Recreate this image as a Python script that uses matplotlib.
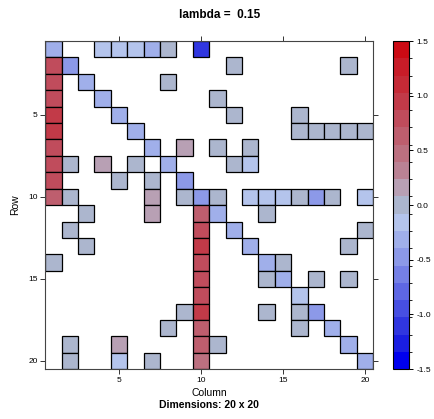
import numpy as np
import matplotlib
matplotlib.use("Agg")
import matplotlib.pyplot as plt
from matplotlib.colors import ListedColormap, BoundaryNorm
from matplotlib.cm import ScalarMappable

plt.rcParams['font.family'] = ['Liberation Sans', 'DejaVu Sans']
plt.rcParams['axes.unicode_minus'] = False

# nonzero entries of the 20 x 20 matrix (row, column, value)
cell_rows = [1, 1, 1, 1, 1, 1, 1,
             2, 2, 2, 2,
             3, 3, 3,
             4, 4, 4,
             5, 5, 5, 5,
             6, 6, 6, 6, 6, 6, 6,
             7, 7, 7, 7, 7,
             8, 8, 8, 8, 8, 8, 8,
             9, 9, 9, 9,
             10, 10, 10, 10, 10, 10, 10, 10, 10, 10, 10, 10, 10,
             11, 11, 11, 11, 11,
             12, 12, 12, 12,
             13, 13, 13, 13,
             14, 14, 14, 14,
             15, 15, 15, 15, 15,
             16, 16,
             17, 17, 17, 17, 17,
             18, 18, 18, 18,
             19, 19, 19, 19, 19,
             20, 20, 20, 20, 20]
cell_cols = [1, 4, 5, 6, 7, 8, 10,
             1, 2, 12, 19,
             1, 3, 8,
             1, 4, 11,
             1, 5, 12, 16,
             1, 6, 16, 17, 18, 19, 20,
             1, 7, 9, 11, 13,
             1, 2, 4, 6, 8, 12, 13,
             1, 5, 7, 9,
             1, 2, 7, 9, 10, 11, 13, 14, 15, 16, 17, 18, 20,
             3, 7, 10, 11, 14,
             2, 10, 12, 20,
             3, 10, 13, 19,
             1, 10, 14, 15,
             10, 14, 15, 17, 19,
             10, 16,
             9, 10, 14, 16, 17,
             8, 10, 16, 18,
             2, 5, 10, 11, 19,
             2, 5, 7, 10, 20]
cell_vals = [-0.3, -0.15, -0.15, -0.15, -0.3, 0.02, -1.1,
             0.8, -0.5, 0.02, 0.02,
             0.8, -0.3, 0.02,
             0.8, -0.3, 0.02,
             0.95, -0.3, 0.02, 0.02,
             0.95, -0.3, 0.02, 0.02, 0.02, 0.02, 0.02,
             0.8, -0.3, 0.15, 0.02, 0.02,
             0.8, 0.02, 0.15, 0.02, -0.3, 0.02, -0.15,
             0.8, 0.02, 0.02, -0.5,
             0.65, 0.02, 0.15, 0.02, -0.5, 0.02, -0.15, -0.15, -0.15, 0.02, -0.5, 0.02, -0.15,
             0.02, 0.15, 0.65, -0.3, 0.02,
             0.02, 0.8, -0.3, 0.02,
             0.02, 0.95, -0.3, 0.02,
             0.02, 0.8, -0.3, 0.02,
             0.8, 0.02, -0.3, 0.02, 0.02,
             0.8, -0.15,
             0.02, 0.95, 0.02, 0.02, -0.5,
             0.02, 0.65, 0.02, -0.3,
             0.02, 0.15, 0.65, 0.02, -0.3,
             0.02, -0.15, 0.02, 0.5, -0.3]

# 19 colour regions from -1.5 to 1.5
region_colors = ['#0000EE', '#1A1EE2', '#3036E0', '#474FE2', '#5E67E4',
                 '#7580E6', '#8C99E8', '#A0AFEA', '#B4C4EC', '#ACB6CE',
                 '#B8A0B4', '#BA8294', '#BC7080', '#BE5E6E', '#C04C5C',
                 '#C23A48', '#C52A36', '#C81C28', '#CC0A14']
key_ticks = [-1.5, -1.0, -0.5, 0.0, 0.5, 1.0, 1.5]
axis_ticks = [5, 10, 15, 20]

cmap = ListedColormap(region_colors)
norm = BoundaryNorm(np.linspace(-1.5, 1.5, len(region_colors) + 1), cmap.N)

fig = plt.figure(figsize=(4.35, 4.19), dpi=100)
ax = fig.add_axes([0.104, 0.119, 0.754, 0.783])

ax.bar(cell_cols, 1.0, width=1.0, bottom=np.array(cell_rows) - 0.5,
       color=cmap(norm(cell_vals)), edgecolor='black', linewidth=0.9)

ax.set_xlim(0.5, 20.5)
ax.set_ylim(20.5, 0.5)
ax.set_xticks(axis_ticks)
ax.set_yticks(axis_ticks)
ax.tick_params(top=True, right=True, labeltop=False, labelright=False,
               direction='out', length=3.5, width=0.7, labelsize=6,
               color='#333333', pad=2)
for s in ax.spines.values():
    s.set_color('#444444')
    s.set_linewidth(0.8)

ax.set_xlabel('Column', fontsize=7.5, labelpad=3)
ax.set_ylabel('Row', fontsize=7.5, labelpad=6)
fig.text(0.48, 0.021, 'Dimensions: 20 x 20', ha='center', va='bottom',
         fontsize=7.5, fontweight='bold')
fig.text(0.505, 0.965, 'lambda =  0.15', ha='center', va='center',
         fontsize=8.5, fontweight='bold')

cax = fig.add_axes([0.904, 0.119, 0.037, 0.783])
cb = fig.colorbar(ScalarMappable(norm=norm, cmap=cmap), cax=cax,
                  ticks=key_ticks)
cb.ax.set_yticklabels(['%.1f' % t for t in key_ticks])
cb.ax.tick_params(labelsize=6, length=3, width=0.7, pad=2)
cb.outline.set_linewidth(0.8)

fig.savefig('out.png', dpi=100)
